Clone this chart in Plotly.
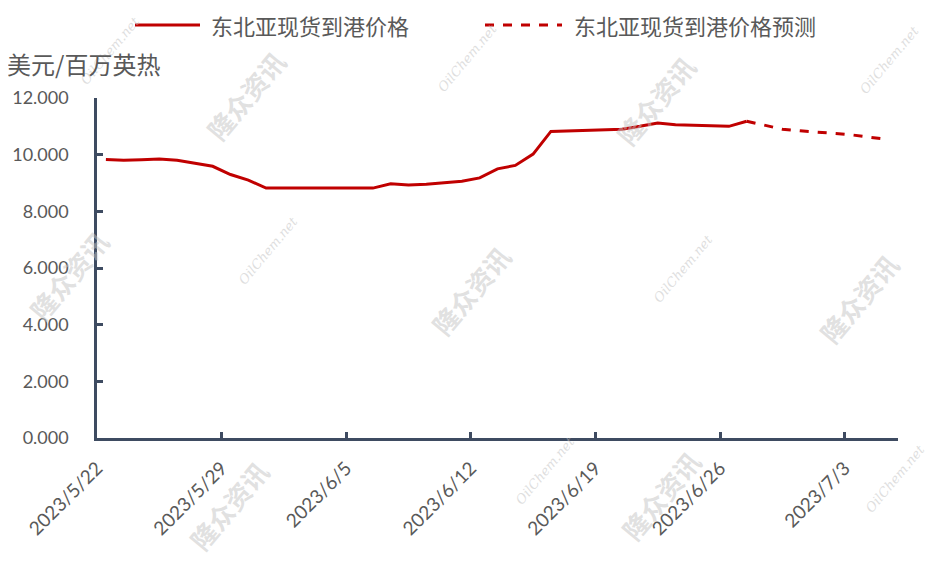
import plotly.graph_objects as go
import pandas as pd

# ---- data ----
actual_start = "2023-05-22"
actual_values = [9.83, 9.80, 9.82, 9.85, 9.80, 9.70, 9.59, 9.30, 9.10, 8.82,
                 8.82, 8.82, 8.82, 8.82, 8.82, 8.82, 8.97, 8.93, 8.96, 9.00,
                 9.06, 9.18, 9.50, 9.62, 10.02, 10.82, 10.84, 10.86, 10.88, 10.90,
                 11.00, 11.12, 11.06, 11.04, 11.03, 11.00, 11.18]
forecast_start = "2023-06-27"
forecast_values = [11.18, 11.04, 10.90, 10.84, 10.80, 10.75, 10.69, 10.61, 10.53]
tick_dates = ["2023-05-22", "2023-05-29", "2023-06-05", "2023-06-12",
              "2023-06-19", "2023-06-26", "2023-07-03"]
tick_labels = ["2023/5/22", "2023/5/29", "2023/6/5", "2023/6/12",
               "2023/6/19", "2023/6/26", "2023/7/3"]
series_names = ["东北亚现货到港价格", "东北亚现货到港价格预测"]
y_title = "美元/百万英热"

# points sit in the middle of each day slot
actual_x = pd.date_range(actual_start, periods=len(actual_values), freq="D") + pd.Timedelta(hours=12)
forecast_x = pd.date_range(forecast_start, periods=len(forecast_values), freq="D") + pd.Timedelta(hours=12)

RED = "#C00000"
AXIS = "#3E4B61"
TXT = "#595959"
NUM_FONT = "Lato, Open Sans, sans-serif"
CJK_FONT = "Noto Sans CJK SC, sans-serif"

# plot area in page pixels: x 97..898, y 98..438
X0, X1, Y0, Y1 = 97, 898, 98, 438
def px(x):
    return (x - X0) / (X1 - X0)
def py(y):
    return (Y1 - y) / (Y1 - Y0)

fig = go.Figure()
fig.add_trace(go.Scatter(x=actual_x, y=actual_values, mode="lines", name=series_names[0],
                         line=dict(color=RED, width=3), showlegend=False))
fig.add_trace(go.Scatter(x=forecast_x, y=forecast_values, mode="lines", name=series_names[1],
                         line=dict(color=RED, width=3, dash="dash"), showlegend=False))

# watermarks
wm1 = [(245, 95), (655, 100), (68, 275), (470, 290), (858, 298), (228, 505), (660, 495)]
wm2 = [(110, 50), (468, 58), (890, 60), (268, 250), (683, 268), (545, 470), (895, 478)]
for (wx, wy) in wm1:
    fig.add_annotation(x=px(wx), y=py(wy), xref="paper", yref="paper",
                       xanchor="center", yanchor="middle",
                       text="<b>隆众资讯</b>", showarrow=False, textangle=-50,
                       font=dict(family=CJK_FONT, size=26, color="rgba(195,195,195,0.5)"))
for (wx, wy) in wm2:
    fig.add_annotation(x=px(wx), y=py(wy), xref="paper", yref="paper",
                       xanchor="center", yanchor="middle",
                       text="<i>OilChem.net</i>", showarrow=False, textangle=-50,
                       font=dict(family="DejaVu Serif, serif", size=13, color="rgba(190,190,190,0.5)"))

# legend (drawn manually to match long samples)
ly = py(25)
fig.add_shape(type="line", xref="paper", yref="paper", x0=px(135), x1=px(200),
              y0=ly, y1=ly, line=dict(color=RED, width=3))
fig.add_annotation(x=px(209), y=ly, xref="paper", yref="paper", xanchor="left", yanchor="middle",
                   text=series_names[0], showarrow=False,
                   font=dict(family=CJK_FONT, size=22, color=TXT))
fig.add_shape(type="line", xref="paper", yref="paper", x0=px(485), x1=px(562),
              y0=ly, y1=ly, line=dict(color=RED, width=3, dash="dash"))
fig.add_annotation(x=px(572), y=ly, xref="paper", yref="paper", xanchor="left", yanchor="middle",
                   text=series_names[1], showarrow=False,
                   font=dict(family=CJK_FONT, size=22, color=TXT))

# y axis title
fig.add_annotation(x=px(5), y=py(64), xref="paper", yref="paper",
                   xanchor="left", yanchor="middle", text=y_title, showarrow=False,
                   font=dict(family=CJK_FONT, size=24, color=TXT))

# page body has an 8px margin, so compensate in the figure margins
fig.update_layout(
    width=940, height=564,
    margin=dict(l=X0 - 8, r=940 + 8 - X1, t=Y0 - 8, b=564 + 8 - Y1, autoexpand=False),
    plot_bgcolor="white", paper_bgcolor="white",
    showlegend=False,
)
fig.update_xaxes(type="date", range=["2023-05-22", "2023-07-06"], automargin=False,
                 tickmode="array", tickvals=tick_dates, ticktext=tick_labels,
                 tickangle=-45, ticks="inside", ticklen=6, tickwidth=2.5, tickcolor=AXIS,
                 showline=True, linecolor=AXIS, linewidth=2.5, showgrid=False, zeroline=False,
                 ticklabelstandoff=9,
                 tickfont=dict(family=NUM_FONT, size=19, color=TXT))
fig.update_yaxes(range=[0, 12], dtick=2, tickformat=".3f", automargin=False,
                 ticks="inside", ticklen=6, tickwidth=2.5, tickcolor=AXIS,
                 showline=True, linecolor=AXIS, linewidth=2.5, showgrid=False, zeroline=False,
                 ticklabelstandoff=22,
                 tickfont=dict(family=NUM_FONT, size=18, color=TXT))

fig.write_html("out.html")
